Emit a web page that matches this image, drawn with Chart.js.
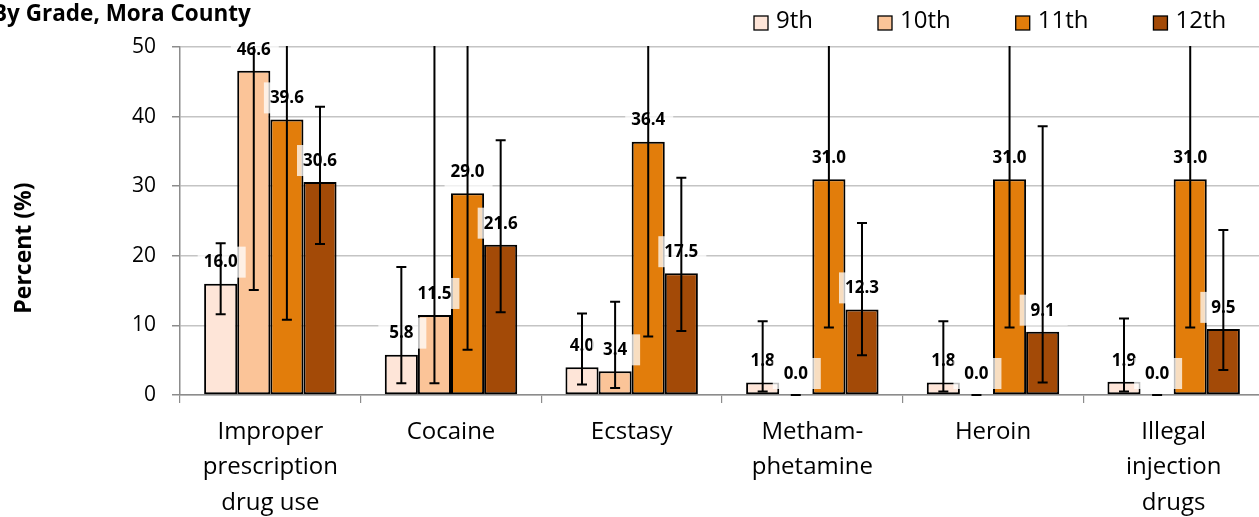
<!DOCTYPE html>
<html>
<head>
<meta charset="utf-8">
<script src="https://cdn.jsdelivr.net/npm/chart.js@4"></script>
<style>
  html, body { margin: 0; padding: 0; background: #fff; overflow: hidden; }
  #wrap { width: 1264px; height: 517px; position: relative; }
</style>
</head>
<body>
<div id="wrap"><canvas id="drugChart"></canvas></div>
<script>
//chart data
const categories = [
  ["Improper", "prescription", "drug use"],
  "Cocaine",
  "Ecstasy",
  ["Metham-", "phetamine"],
  "Heroin",
  ["Illegal", "injection", "drugs"]
];
const gradeLabels = ["9th", "10th", "11th", "12th"];

const grade9 = [16.0, 5.8, 4.0, 1.8, 1.8, 1.9];
const grade10 = [46.6, 11.5, 3.4, 0.0, 0.0, 0.0];
const grade11 = [39.6, 29.0, 36.4, 31.0, 31.0, 31.0];
const grade12 = [30.6, 21.6, 17.5, 12.3, 9.1, 9.5];

//confidence intervals (upper ends above 50 run off the top of the chart)
const low9 = [11.6, 1.7, 1.5, 0.5, 0.5, 0.5];
const high9 = [21.8, 18.4, 11.7, 10.6, 10.6, 11.0];
const low10 = [15.1, 1.7, 1.0, 0.0, 0.0, 0.0];
const high10 = [80.0, 70.0, 13.4, 0.0, 0.0, 0.0];
const low11 = [10.8, 6.5, 8.4, 9.7, 9.7, 9.7];
const high11 = [80.0, 70.0, 80.0, 75.0, 75.0, 75.0];
const low12 = [21.7, 11.9, 9.2, 5.7, 1.8, 3.6];
const high12 = [41.4, 36.6, 31.2, 24.7, 38.6, 23.7];

const yTicks = [0, 10, 20, 30, 40, 50];

const colors = ["#FEE5D8", "#FBC498", "#E27D0B", "#A34A07"];
const FONT = "'Open Sans', 'DejaVu Sans', sans-serif";

const values = [grade9, grade10, grade11, grade12];
const lows = [low9, low10, low11, low12];
const highs = [high9, high10, high11, high12];

//value labels with a pale box behind, then the error bars on top
const labelsAndErrors = {
  id: "labelsAndErrors",
  afterDatasetsDraw(chart) {
    const ctx = chart.ctx;
    const y = chart.scales.y;
    const area = chart.chartArea;

    //labels
    chart.data.datasets.forEach((ds, i) => {
      const meta = chart.getDatasetMeta(i);
      meta.data.forEach((bar, j) => {
        const cx = bar.x;
        const cy = bar.y - 21;
        ctx.save();
        ctx.fillStyle = "rgba(255,255,255,0.75)";
        ctx.fillRect(cx - 23, cy - 16, 48, 31);
        ctx.fillStyle = "#000";
        ctx.font = "bold 17px " + FONT;
        ctx.textAlign = "center";
        ctx.textBaseline = "middle";
        ctx.fillText(ds.data[j].toFixed(1), cx, cy);
        ctx.restore();
      });
    });

    //error bars
    ctx.save();
    ctx.beginPath();
    ctx.rect(area.left, area.top - 1, area.right - area.left, area.bottom - area.top + 2);
    ctx.clip();
    ctx.strokeStyle = "#000";
    ctx.lineWidth = 2;
    chart.data.datasets.forEach((ds, i) => {
      const meta = chart.getDatasetMeta(i);
      meta.data.forEach((bar, j) => {
        const yLo = y.getPixelForValue(lows[i][j]);
        const yHi = y.getPixelForValue(highs[i][j]);
        ctx.beginPath();
        ctx.moveTo(bar.x, yLo);
        ctx.lineTo(bar.x, yHi);
        ctx.moveTo(bar.x - 5, yLo);
        ctx.lineTo(bar.x + 5, yLo);
        ctx.moveTo(bar.x - 5, yHi);
        ctx.lineTo(bar.x + 5, yHi);
        ctx.stroke();
      });
    });
    ctx.restore();
  }
};

//title, y axis title and legend
const extras = {
  id: "extras",
  afterDraw(chart) {
    const ctx = chart.ctx;
    ctx.save();
    ctx.fillStyle = "#000";
    ctx.font = "bold 22.5px " + FONT;
    ctx.textAlign = "left";
    ctx.textBaseline = "alphabetic";
    ctx.fillText("By Grade, Mora County", -8, 21);

    ctx.font = "bold 23px " + FONT;
    ctx.translate(24, 248);
    ctx.rotate(-Math.PI / 2);
    ctx.textAlign = "center";
    ctx.textBaseline = "middle";
    ctx.fillText("Percent (%)", 0, 0);
    ctx.restore();

    //legend
    ctx.save();
    ctx.font = "24px " + FONT;
    ctx.textBaseline = "middle";
    ctx.textAlign = "left";
    let x = 754;
    gradeLabels.forEach((lab, i) => {
      ctx.fillStyle = colors[i];
      ctx.fillRect(x, 16, 14, 14);
      ctx.strokeStyle = "#000";
      ctx.lineWidth = 1.3;
      ctx.strokeRect(x, 16, 14, 14);
      ctx.fillStyle = "#000";
      ctx.fillText(lab, x + 22, 21);
      x += 22 + ctx.measureText(lab).width + 65;
    });
    ctx.restore();
  }
};

const datasets = values.map((vals, i) => ({
  label: gradeLabels[i],
  data: vals,
  backgroundColor: colors[i],
  borderColor: "#000",
  borderWidth: 2,
  borderSkipped: false,
  categoryPercentage: 0.733,
  barPercentage: 1.0
}));

new Chart(document.getElementById("drugChart"), {
  type: "bar",
  data: { labels: categories, datasets: datasets },
  options: {
    responsive: true,
    maintainAspectRatio: false,
    animation: false,
    layout: { padding: { top: 47, left: 0, right: 0, bottom: 0 } },
    plugins: {
      legend: { display: false },
      title: { display: false },
      tooltip: { enabled: false }
    },
    scales: {
      x: {
        grid: {
          display: true,
          drawOnChartArea: false,
          drawTicks: true,
          tickLength: 8,
          color: "#8c8c8c",
          lineWidth: 1.2
        },
        border: { color: "#8c8c8c", width: 1.5 },
        ticks: {
          color: "#000",
          font: { family: FONT, size: 24, lineHeight: 1.48 },
          padding: 11,
          maxRotation: 0,
          autoSkip: false
        },
        afterFit(scale) { scale.height = 122; }
      },
      y: {
        min: 0,
        max: 50,
        afterBuildTicks(scale) { scale.ticks = yTicks.map(v => ({ value: v })); },
        grid: {
          color: "#c4c4c4",
          lineWidth: 1.5,
          tickLength: 8,
          tickColor: "#8c8c8c"
        },
        border: { color: "#8c8c8c", width: 1.5 },
        ticks: {
          color: "#000",
          font: { family: FONT, size: 21 },
          padding: 16
        },
        afterFit(scale) { scale.width = 180; }
      }
    }
  },
  plugins: [labelsAndErrors, extras]
});
</script>
</body>
</html>
